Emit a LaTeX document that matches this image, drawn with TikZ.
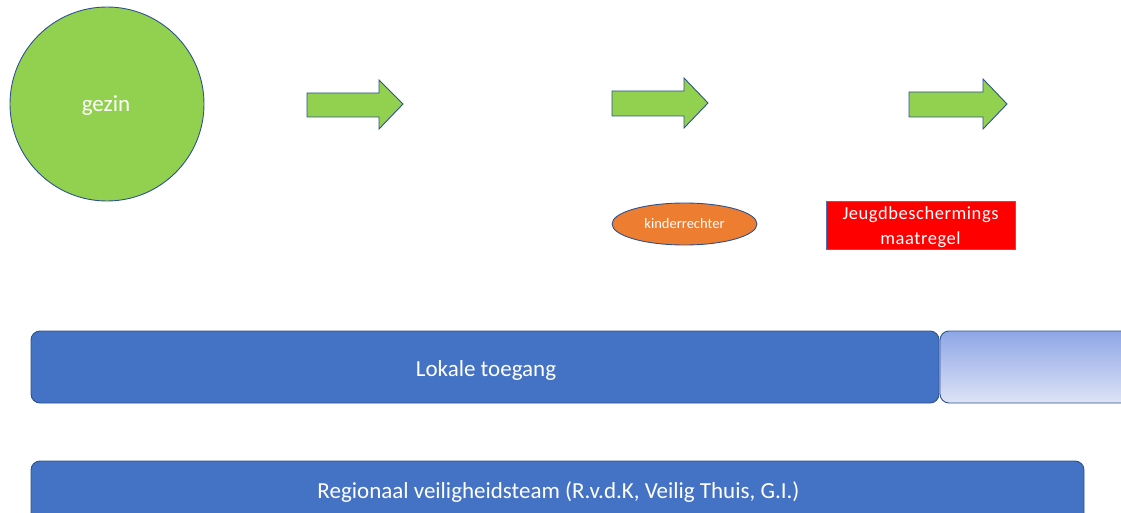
\documentclass[tikz,border=0pt]{standalone}
\usepackage{fontspec}
\setmainfont{Carlito}
\newfontfamily\spaced[LetterSpace=3]{Carlito}
\usetikzlibrary{shapes.geometric}
\definecolor{grn}{HTML}{92D050}
\definecolor{edge}{HTML}{2F528F}
\definecolor{blu}{HTML}{4472C4}
\definecolor{org}{HTML}{ED7D31}
\definecolor{gtop}{HTML}{8EA6E6}
\definecolor{gbot}{HTML}{DEE4F6}
\tikzset{
  greenarrow/.style={fill=grn,draw=edge,line width=0.9pt,line join=miter},
  bar/.style={fill=blu,draw=edge,line width=0.9pt,rounded corners=9pt},
  lbl/.style={text=white,font=\fontsize{23}{27}\selectfont}
}
\begin{document}
\begin{tikzpicture}[x=1pt,y=-1pt]
\useasboundingbox (0,0) rectangle (1121,513);
\clip (0,0) rectangle (1121,513);
% circle
\node[circle,minimum size=194pt,fill=grn,draw=edge,line width=0.9pt,inner sep=0pt] (gezin) at (107,104) {};
\node[lbl] (gezintxt) at (106,106) {gezin};
% arrows
\draw[greenarrow] (307,93) -- (379,93) -- (379,80) -- (403,104) -- (379,129) -- (379,117) -- (307,117) -- cycle;
\draw[greenarrow] (612,91) -- (684,91) -- (684,78) -- (708,103) -- (684,128) -- (684,116) -- (612,116) -- cycle;
\draw[greenarrow] (909,92) -- (983,92) -- (983,79) -- (1007,104) -- (983,129) -- (983,117) -- (909,117) -- cycle;
% kinderrechter
\node[ellipse,minimum width=145pt,minimum height=42pt,fill=org,draw=edge,line width=0.9pt,text=white,font=\fontsize{14.5}{17}\selectfont] (kr) at (684.5,224) {kinderrechter};
% jeugdbescherming
\node[rectangle,minimum width=189pt,minimum height=48pt,fill=red,draw=blu,line width=0.9pt,inner sep=0pt] (jb) at (920.5,225.5) {};
\node[text=white,align=center,font=\spaced\fontsize{18.5}{25}\selectfont,inner sep=0pt] (jbtxt) at (920.5,227.5) {Jeugdbeschermings\\maatregel};
% bars
\draw[bar] (31,331) rectangle (939,403);
\node[lbl] (lt) at (486,370) {Lokale toegang};
\shade[top color=gtop,bottom color=gbot,draw=edge,line width=0.9pt,rounded corners=9pt] (940,331) rectangle (1140,403);
\draw[bar] (31,461) rectangle (1084,540);
\node[lbl] (rv) at (558.5,492) {Regionaal veiligheidsteam (R.v.d.K, Veilig Thuis, G.I.)};
\end{tikzpicture}
\end{document}
